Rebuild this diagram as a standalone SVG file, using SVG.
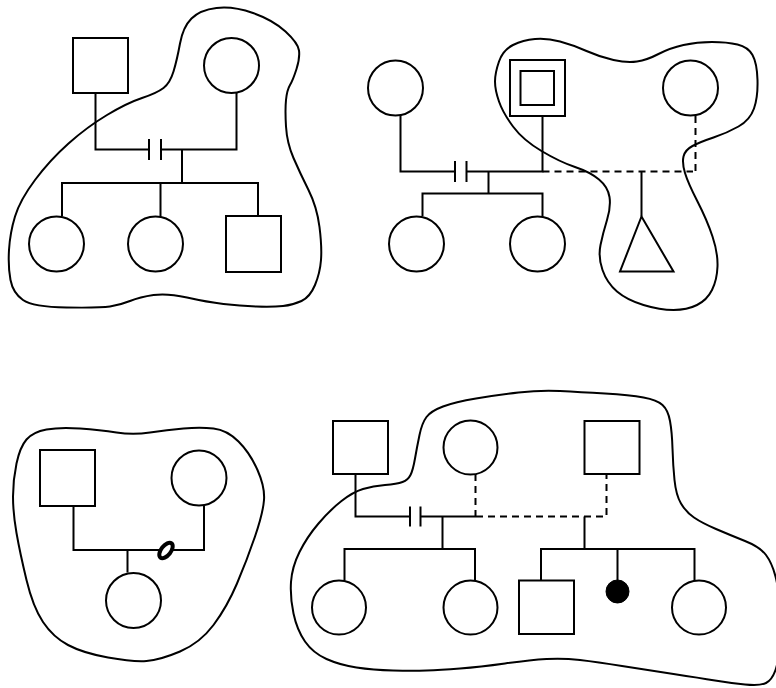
<svg xmlns="http://www.w3.org/2000/svg" width="776" height="688" viewBox="0 0 776 688">
<style>
.n{fill:#fff;stroke:#000;stroke-width:2}
.l{fill:none;stroke:#000;stroke-width:2}
.d{fill:none;stroke:#000;stroke-width:2;stroke-dasharray:7,5}
.b{fill:none;stroke:#000;stroke-width:2}
</style>
<rect width="776" height="688" fill="#fff"/>
<g id="blobs">
<path class="b" d="M216.5,8 Q233,6 253,13 Q273,20 285.5,31.5 Q298,43 299,50.5 Q300,58 296.5,69 Q293,80 290,85 Q287,90 286,100 Q285,110 286,126.5 Q287,143 293.5,158 Q300,173 308.5,190 Q317,207 319.5,227 Q322,247 321,260 Q320,273 315,285 Q310,297 301.5,301 Q293,305 283,306 Q273,307 256.5,306.5 Q240,306 223.5,304 Q207,302 187,297.5 Q167,293 153.5,295 Q140,297 130,301 Q120,305 110,306.5 Q100,308 66.5,307.5 Q33,307 23,300 Q13,293 10.5,280 Q8,267 9,250 Q10,233 15,216.5 Q20,200 35,180 Q50,160 68.5,143.5 Q87,127 107,115 Q127,103 142,98 Q157,93 163.5,88 Q170,83 173.5,71.5 Q177,60 180,43.5 Q183,27 191.5,18.5 Q200,10 216.5,8 Z"/>
<path class="b" d="M495,81.5 Q495,73 499,61.5 Q503,50 513,45 Q523,40 535,39 Q547,38 560,41.5 Q573,45 586.5,51 Q600,57 613.5,60 Q627,63 637,61.5 Q647,60 658.5,54 Q670,48 683.5,45 Q697,42 712,42 Q727,42 737.5,44.5 Q748,47 752.5,55 Q757,63 757.5,80 Q758,97 754,108.5 Q750,120 738.5,126.5 Q727,133 713.5,137.5 Q700,142 692.5,146 Q685,150 683.5,156.5 Q682,163 685,173 Q688,183 697.5,201.5 Q707,220 712.5,236.5 Q718,253 717.5,266.5 Q717,280 712,290 Q707,300 697,305 Q687,310 673.5,310 Q660,310 643.5,305 Q627,300 617,291.5 Q607,283 602.5,270 Q598,257 600.5,245 Q603,233 607,220 Q611,207 609.5,197 Q608,187 599,179.5 Q590,172 575,167 Q560,162 541.5,151 Q523,140 513,126.5 Q503,113 499,101.5 Q495,90 495,81.5 Z"/>
<path class="b" d="M13,496.5 Q13,480 16.5,463.5 Q20,447 26.5,439.5 Q33,432 46.5,429.5 Q60,427 80,428.5 Q100,430 116.5,432.5 Q133,435 150,432.5 Q167,430 183.5,428.5 Q200,427 213.5,428.5 Q227,430 238.5,441.5 Q250,453 257.5,470 Q265,487 264,500 Q263,513 255,536.5 Q247,560 237,583.5 Q227,607 213.5,625 Q200,643 180,651.5 Q160,660 146.5,661 Q133,662 108,657.5 Q83,653 68,645 Q53,637 43,622 Q33,607 26.5,580 Q20,553 16.5,533 Q13,513 13,496.5 Z"/>
<path class="b" d="M410.5,475 Q413,470 415,458.5 Q417,447 419.5,435 Q422,423 426.5,417 Q431,411 443,406.5 Q455,402 476,398.5 Q497,395 518.5,392.5 Q540,390 560,391 Q580,392 605,393.5 Q630,395 643.5,397.5 Q657,400 662.5,405 Q668,410 670,421 Q672,432 672.5,448.5 Q673,465 674.5,480 Q676,495 681,503.5 Q686,512 694,517.5 Q702,523 716,529 Q730,535 745,541 Q760,547 766,555 Q772,563 775.5,576.5 Q779,590 780,607.5 Q781,625 780,642.5 Q779,660 775.5,670 Q772,680 766,683 Q760,686 745,684.5 Q730,683 715,680.5 Q700,678 673.5,674 Q647,670 622,666 Q597,662 580,660 Q563,658 546.5,659 Q530,660 505,663.5 Q480,667 460,668.5 Q440,670 426.5,670.5 Q413,671 393,670.5 Q373,670 356.5,667.5 Q340,665 326.5,659 Q313,653 305,641.5 Q297,630 293.5,613.5 Q290,597 291,582 Q292,567 299.5,552 Q307,537 318.5,523.5 Q330,510 341.5,501 Q353,492 363,489 Q373,486 385,485 Q397,484 402.5,482 Q408,480 410.5,475 Z"/>
</g>
<g id="connectors">
<path class="l" d="M95.5,93 V149.5 H149 M161,149.5 H236.5 V93 M149,139 V160 M161,139 V160 M182,149.5 V183 M62,216 V183 H258 V216 M160.5,183 V216"/>
<path class="l" d="M400.5,115 V171.5 H455 M466.5,171.5 H542.5 V116 M455,161 V182 M466.5,161 V182 M488.5,171.5 V193.5 M422.5,216 V193.5 H542.5 V216 M641.5,171.5 V216.5"/>
<path class="d" d="M542.5,171.5 H693 M695.5,116 V171.5"/>
<path class="l" d="M73.5,506 V550 H204 V506 M127.5,550 V572.5"/>
<path class="l" d="M355.5,474 V516.5 H410 M420.5,516.5 H476 M410,506.5 V526.5 M420.5,506.5 V526.5 M442.5,516.5 V549 M344.5,580.5 V549 H475 V580.5 M584.5,516.5 V549 M541,580.5 V549 H694.5 V580.5 M617.5,549 V580"/>
<path class="d" d="M475.5,474 V516.5 M476,516.5 H606.5 V474"/>
<ellipse cx="166" cy="550.5" rx="9" ry="4.8" transform="rotate(-52 166 550.5)" fill="#fff" stroke="#000" stroke-width="4"/>
</g>
<g id="p1-father"><rect class="n" x="73" y="38" width="55" height="55"/></g>
<g id="p1-mother"><circle class="n" cx="231.5" cy="65.5" r="27.5"/></g>
<g id="p1-child1"><circle class="n" cx="56.5" cy="244" r="27.5"/></g>
<g id="p1-child2"><circle class="n" cx="155.5" cy="244" r="27.5"/></g>
<g id="p1-child3"><rect class="n" x="226" y="216" width="55" height="56"/></g>
<g id="p2-mother"><circle class="n" cx="395.5" cy="88" r="27.5"/></g>
<g id="p2-father"><rect class="n" x="510" y="60" width="55" height="56"/><rect class="n" x="520.5" y="71" width="33.5" height="34"/></g>
<g id="p2-partner"><circle class="n" cx="690.5" cy="88" r="27.5"/></g>
<g id="p2-child1"><circle class="n" cx="416.5" cy="244" r="27.5"/></g>
<g id="p2-child2"><circle class="n" cx="537.5" cy="244" r="27.5"/></g>
<g id="p2-pregnancy"><polygon class="n" points="641.5,216.5 620,271.5 673.5,271.5"/></g>
<g id="p3-father"><rect class="n" x="40" y="450" width="55" height="56"/></g>
<g id="p3-mother"><circle class="n" cx="199" cy="478" r="27.5"/></g>
<g id="p3-child"><circle class="n" cx="133.5" cy="600.5" r="27.5"/></g>
<g id="p4-father1"><rect class="n" x="333" y="421" width="55" height="53"/></g>
<g id="p4-mother"><circle class="n" cx="470.5" cy="447.5" r="27"/></g>
<g id="p4-father2"><rect class="n" x="584.5" y="421" width="55" height="53"/></g>
<g id="p4-child1"><circle class="n" cx="339" cy="607.5" r="27"/></g>
<g id="p4-child2"><circle class="n" cx="470.5" cy="607.5" r="27"/></g>
<g id="p4-child3"><rect class="n" x="519" y="580.5" width="55" height="53.5"/></g>
<g id="p4-child4"><circle cx="617.5" cy="591.5" r="11.5" fill="#000" stroke="#000" stroke-width="1"/></g>
<g id="p4-child5"><circle class="n" cx="699" cy="607.5" r="27"/></g>
</svg>
